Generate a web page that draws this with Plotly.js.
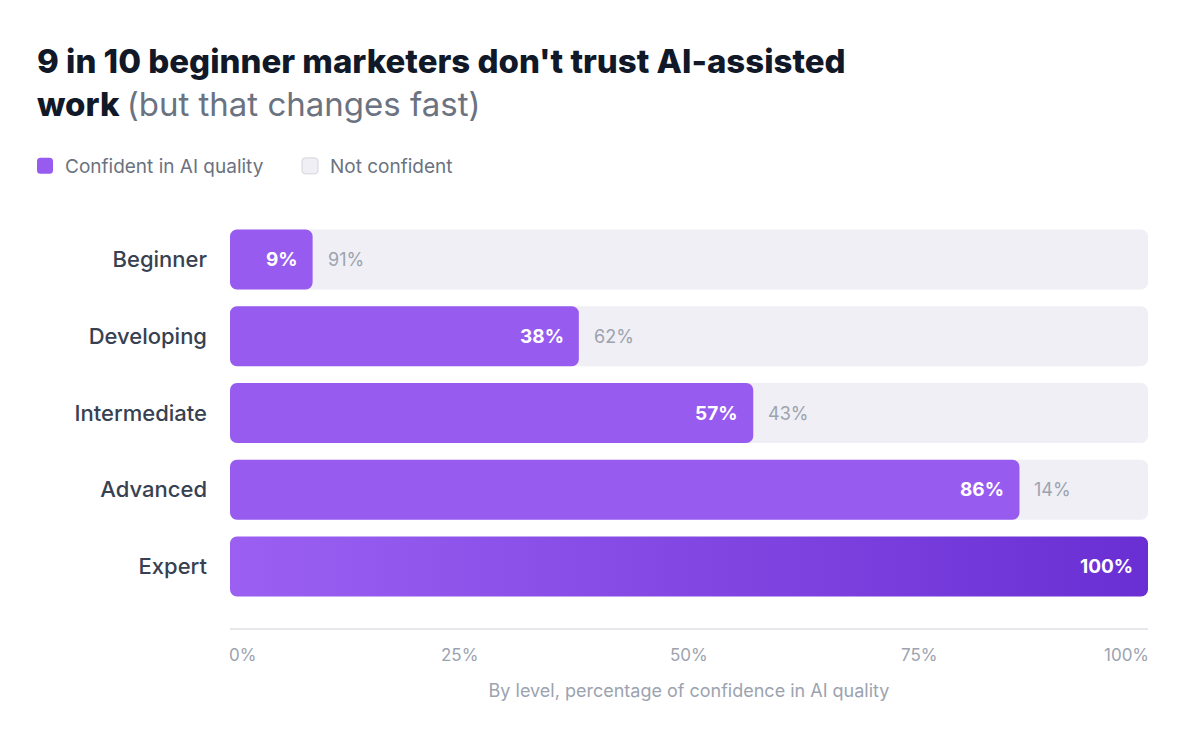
<!DOCTYPE html>
<html>
<head>
<meta charset="utf-8">
<script src="https://cdn.plot.ly/plotly-3.0.1.min.js"></script>
<style>
  html, body { margin: 0; padding: 0; background: #ffffff; }
  #chart { width: 1200px; height: 747px; }
</style>
</head>
<body>
<div id="chart"></div>
<script>
// ---- data ----
const levels = ["Beginner", "Developing", "Intermediate", "Advanced", "Expert"];
const confident = [9, 38, 57, 86, 100];
const notConfident = [91, 62, 43, 14, 0];
const tickValues = [0, 25, 50, 75, 100];
const tickLabels = ["0%", "25%", "50%", "75%", "100%"];
const seriesNames = ["Confident in AI quality", "Not confident"];

const FONT = "Inter, 'Noto Sans', sans-serif";
const PURPLE = "#975cef";
const GRAY_BAR = "#efeff5";

const data = [
  {
    type: "bar",
    orientation: "h",
    name: seriesNames[1],
    y: levels,
    x: notConfident,
    base: confident,
    marker: { color: GRAY_BAR, line: { width: 0 } },
    hoverinfo: "skip"
  },
  {
    type: "bar",
    orientation: "h",
    name: seriesNames[0],
    y: levels,
    x: confident,
    marker: { color: PURPLE, line: { width: 0 } },
    hoverinfo: "skip"
  }
];

const annotations = [];
tickValues.forEach((v, i) => {
  const first = i === 0, last = i === tickValues.length - 1;
  annotations.push({
    x: v, xref: "x",
    y: 0, yref: "paper",
    yshift: -27,
    xshift: first ? -3 : (last ? 3 : 0),
    text: tickLabels[i],
    showarrow: false,
    xanchor: first ? "left" : (last ? "right" : "center"),
    yanchor: "middle",
    font: { family: FONT, size: 17, color: "#9ca3af" }
  });
});
levels.forEach((lv, i) => {
  annotations.push({
    x: confident[i], xref: "x", y: lv, yref: "y",
    text: "<b>" + confident[i] + "%</b>",
    showarrow: false, xanchor: "right", yanchor: "middle", xshift: -13,
    font: { family: FONT, size: 19, color: "#ffffff" }
  });
  if (notConfident[i] > 0) {
    annotations.push({
      x: confident[i], xref: "x", y: lv, yref: "y",
      text: notConfident[i] + "%",
      showarrow: false, xanchor: "left", yanchor: "middle", xshift: 13,
      font: { family: FONT, size: 18, color: "#9ca3af" }
    });
  }
});

const layout = {
  width: 1200,
  height: 747,
  paper_bgcolor: "#ffffff",
  plot_bgcolor: "#ffffff",
  font: { family: FONT },
  margin: { l: 230, r: 52, t: 198, b: 119 },
  barmode: "overlay",
  bargap: 0.218,
  title: {
    text: "9 in 10 beginner marketers don't trust AI-assisted<br>work <span style='font-weight:400;color:#6b7280'>(but that changes fast)</span>",
    x: 37 / 1200, xanchor: "left", xref: "container",
    y: 1 - 73 / 747, yanchor: "top", yref: "container",
    font: { family: FONT, size: 33, color: "#111827", weight: 800 }
  },
  showlegend: true,
  legend: {
    orientation: "h",
    traceorder: "reversed",
    xref: "container", yref: "container",
    x: 25 / 1200, xanchor: "left",
    y: 1 - 166 / 747, yanchor: "middle",
    font: { family: FONT, size: 19, color: "#6b7280" },
    entrywidth: 220, entrywidthmode: "pixels",
    bgcolor: "rgba(0,0,0,0)"
  },
  xaxis: {
    range: [0, 100],
    showgrid: false,
    zeroline: false,
    showticklabels: false,
    ticks: "",
    showline: true,
    linecolor: "#e5e7eb",
    linewidth: 1.5,
    fixedrange: true,
    title: {
      text: "By level, percentage of confidence in AI quality",
      font: { family: FONT, size: 18, color: "#9ca3af" },
      standoff: 56
    }
  },
  yaxis: {
    type: "category",
    categoryorder: "array",
    categoryarray: levels,
    range: [4.8, -0.8],
    showgrid: false,
    zeroline: false,
    showline: false,
    ticks: "",
    ticklabelstandoff: 22,
    tickfont: { family: FONT, size: 22, color: "#374151", weight: 500 },
    fixedrange: true
  },
  annotations: annotations
};

function rr(x, y, w, h, r) {
  r = Math.min(r, w / 2, h / 2);
  return `M${x + r},${y}H${x + w - r}A${r},${r} 0 0 1 ${x + w},${y + r}V${y + h - r}A${r},${r} 0 0 1 ${x + w - r},${y + h}H${x + r}A${r},${r} 0 0 1 ${x},${y + h - r}V${y + r}A${r},${r} 0 0 1 ${x + r},${y}Z`;
}

function polish(gd) {
  const svg = gd.querySelector(".main-svg");
  let defs = svg.querySelector("defs");
  const ns = "http://www.w3.org/2000/svg";
  const grad = document.createElementNS(ns, "linearGradient");
  grad.setAttribute("id", "expertGrad");
  grad.setAttribute("x1", "0"); grad.setAttribute("x2", "1");
  grad.setAttribute("y1", "0"); grad.setAttribute("y2", "0");
  [["0", "#9b60f2"], ["1", "#6a2fd3"]].forEach(([o, c]) => {
    const s = document.createElementNS(ns, "stop");
    s.setAttribute("offset", o); s.setAttribute("stop-color", c);
    grad.appendChild(s);
  });
  defs.appendChild(grad);

  const traces = gd.querySelectorAll(".barlayer .trace");
  const xa = gd._fullLayout.xaxis;
  const x0 = xa.l2p(0);
  traces[0].querySelectorAll(".point path").forEach(p => {
    const b = p.getBBox();
    if (b.width <= 0) return;
    const right = b.x + b.width;
    p.setAttribute("d", rr(x0, b.y, right - x0, b.height, 7));
  });
  const pp = traces[1].querySelectorAll(".point path");
  pp.forEach((p, i) => {
    const b = p.getBBox();
    p.setAttribute("d", rr(b.x, b.y, b.width, b.height, 7));
    if (confident[i] === 100) p.style.fill = "url(#expertGrad)";
  });
  gd.querySelectorAll(".legend .traces").forEach(t => {
    const name = t.querySelector(".legendtext").textContent;
    const p = t.querySelector(".legendpoints path");
    if (!p) return;
    p.setAttribute("d", rr(-8, -8, 16, 16, 3.5));
    if (name === seriesNames[1]) {
      p.style.fill = "#efeff5";
      p.style.stroke = "#d4d4dc";
      p.style.strokeWidth = "1px";
    } else {
      p.style.fill = PURPLE;
      p.style.stroke = "none";
    }
  });
}

const gd = document.getElementById("chart");
Plotly.newPlot(gd, data, layout, { displayModeBar: false, staticPlot: true }).then(() => polish(gd));
</script>
</body>
</html>
